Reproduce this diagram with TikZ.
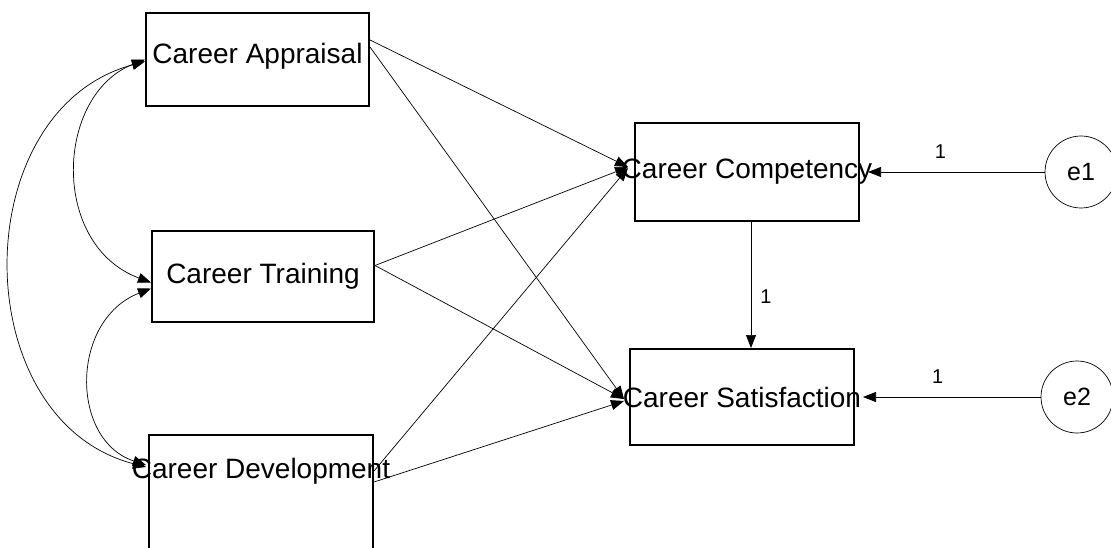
\documentclass[tikz,border=0pt]{standalone}
\usepackage{fontspec}
\setmainfont{Liberation Sans}
\usetikzlibrary{arrows.meta,positioning,calc}
\begin{document}
\begin{tikzpicture}[x=1pt, y=-1pt, >={Triangle[length=13pt,width=10pt]},
  var/.style={draw, line width=2pt, inner sep=0pt},
  txt/.style={font=\fontsize{28}{32}\selectfont, inner sep=0pt},
  err/.style={draw, circle, line width=0.7pt, minimum size=72pt, inner sep=0pt, font=\fontsize{25}{30}\selectfont},
  path/.style={->, line width=0.7pt},
  cov/.style={<->, line width=0.7pt},
  wt/.style={font=\fontsize{20}{24}\selectfont, inner sep=1pt}]
\clip (0,0) rectangle (1111,548);
% observed variables
\node[var, minimum width=223pt, minimum height=93pt,
  label={[name=apptxt, txt, yshift=3pt]center:Career Appraisal}] (app) at (257.5,59.5) {};
\node[var, minimum width=222pt, minimum height=91pt,
  label={[name=trntxt, txt]center:Career Training}] (trn) at (263,276.5) {};
\node[var, minimum width=224pt, minimum height=140pt,
  label={[name=devtxt, txt, yshift=34pt]center:Career Development}] (dev) at (261,505) {};
\node[var, minimum width=224pt, minimum height=98pt,
  label={[name=comptxt, txt]center:Career Competency}] (comp) at (747,172) {};
\node[var, minimum width=224pt, minimum height=96pt,
  label={[name=sattxt, txt]center:Career Satisfaction}] (sat) at (742,397) {};
% error terms
\node[err] (e1) at (1081,172) {e1};
\node[err] (e2) at (1077,397) {e2};
% covariances
\draw[cov] (app.west) .. controls (55,95) and (50,245) .. ([yshift=-6pt]trn.west);
\draw[cov] ([yshift=-2pt]app.west) .. controls (-35,110) and (-35,420) .. ($(dev.west |- devtxt)+(-2,-4)$);
\draw[cov] ([yshift=-12pt]trn.west) .. controls (70,320) and (70,440) .. ($(dev.west |- devtxt)+(-2,-6)$);
% regression paths
\draw[path] ([yshift=19.5pt]app.east) -- ([xshift=-6pt,yshift=5pt]comp.west);
\draw[path] ([yshift=12.5pt]app.east) -- ([xshift=-5pt,yshift=-2pt]sat.west);
\draw[path] ([yshift=11pt]trn.east) -- ([xshift=-6pt,yshift=5pt]comp.west);
\draw[path] ([yshift=11pt]trn.east) -- ([xshift=-5pt,yshift=-2pt]sat.west);
\draw[path] (dev.east |- devtxt) -- ([xshift=-6pt,yshift=4pt]comp.west);
\draw[path] ($(dev.east |- devtxt)+(0,11)$) -- ([xshift=-5pt,yshift=-4pt]sat.west);
\draw[path] ([xshift=4pt]comp.south) -- ([xshift=4pt]comp.south |- sat.north) node[wt, pos=0.59, right=8pt] {1};
\draw[path] (e1) -- ([xshift=8pt]comp.east) node[wt, pos=0.59, above=12pt] {1};
\draw[path] (e2) -- ([xshift=8pt]sat.east) node[wt, pos=0.58, above=12pt] {1};
\end{tikzpicture}
\end{document}
